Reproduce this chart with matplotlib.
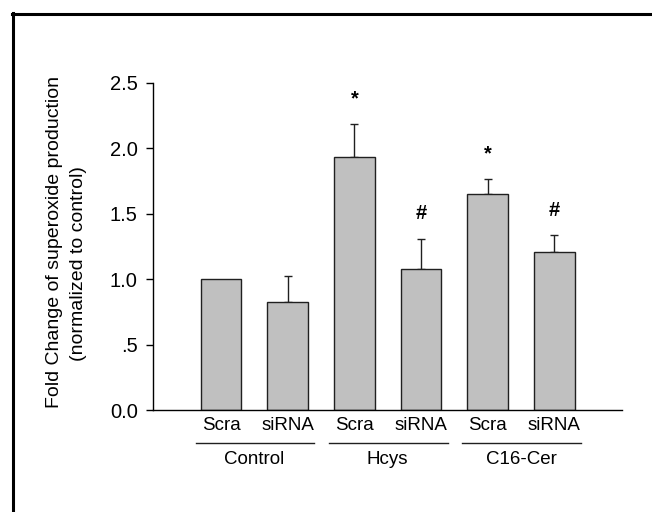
import matplotlib
matplotlib.use('Agg')
import matplotlib.pyplot as plt
from matplotlib.lines import Line2D
import matplotlib.transforms as mtransforms

plt.rcParams['font.family'] = ['Liberation Sans', 'DejaVu Sans']

treatments = ['Scra', 'siRNA', 'Scra', 'siRNA', 'Scra', 'siRNA']
groups = ['Control', 'Hcys', 'C16-Cer']
means = [1.00, 0.825, 1.935, 1.075, 1.655, 1.21]
errors = [0.0, 0.20, 0.255, 0.235, 0.11, 0.125]
marks = ['', '', '*', '#', '*', '#']
ytick_vals = [0.0, 0.5, 1.0, 1.5, 2.0, 2.5]
ytick_labels = ['0.0', '.5', '1.0', '1.5', '2.0', '2.5']

fig = plt.figure(figsize=(6.52, 5.12), dpi=100)
ax = fig.add_axes([0.2347, 0.1992, 0.7188, 0.6387])

x = list(range(len(means)))
ax.bar(x, means, width=0.61, color='#c0c0c0', edgecolor='#202020', linewidth=1.0, zorder=2)
# control has no error bar
ex = [xi for xi, e in zip(x, errors) if e > 0]
em = [m for m, e in zip(means, errors) if e > 0]
ee = [e for e in errors if e > 0]
ax.errorbar(ex, em, yerr=[[0] * len(ee), ee], fmt='none', ecolor='#202020',
            elinewidth=1.0, capsize=3, capthick=1.0, zorder=1)
for xi, m, e, s in zip(x, means, errors, marks):
    if s:
        ax.text(xi, m + e + 0.19, s, ha='center', va='center', fontsize=14.5, fontweight='bold')

ax.set_xlim(-1.02, 6.01)
ax.set_ylim(0, 2.5)
ax.set_yticks(ytick_vals)
ax.set_yticklabels(ytick_labels, fontsize=14.5)
ax.set_xticks([])
ax.tick_params(axis='y', direction='out', length=5, width=1, pad=6)
for side in ['top', 'right']:
    ax.spines[side].set_visible(False)
ax.spines['left'].set_linewidth(1)
ax.spines['bottom'].set_linewidth(1)

# treatment / group labels below the axis
trans = mtransforms.blended_transform_factory(ax.transData, ax.transAxes)
for xi, t in zip(x, treatments):
    ax.text(xi, -0.046, t, transform=trans, ha='center', va='center', fontsize=13.5)
for k, g in enumerate(groups):
    c = 2 * k + 0.5
    ax.add_line(Line2D([c - 0.88, c + 0.9], [-0.101, -0.101], transform=trans,
                       color='#202020', lw=1, clip_on=False))
    ax.text(c, -0.15, g, transform=trans, ha='center', va='center', fontsize=13.5)

fig.text(0.084, 0.527, 'Fold Change of superoxide production', rotation=90,
         ha='center', va='center', fontsize=14)
fig.text(0.12, 0.486, '(normalized to control)', rotation=90,
         ha='center', va='center', fontsize=14)

# frame (top and left edges only, cropped original)
fig.add_artist(Line2D([12 / 652, 1], [1 - 13.5 / 512, 1 - 13.5 / 512], color='black', lw=2.2))
fig.add_artist(Line2D([13 / 652, 13 / 652], [0, 1 - 12.5 / 512], color='black', lw=2.2))

fig.savefig('out.png', dpi=100)
